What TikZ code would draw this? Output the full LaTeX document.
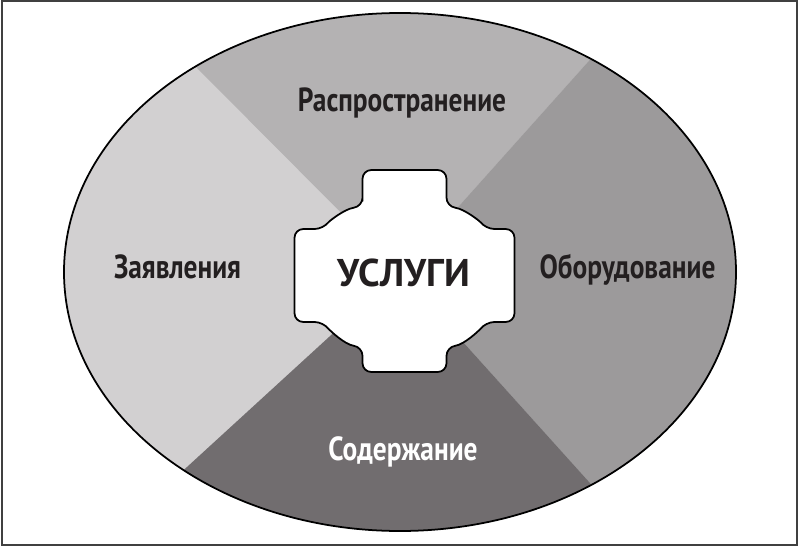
\documentclass[tikz,border=0pt]{standalone}
\usepackage{fontspec}
\setmainfont{PT Sans}
\newfontfamily\narrowfont{PT Sans}[FakeStretch=0.82]
\usetikzlibrary{positioning}
\definecolor{sectorTop}{HTML}{B4B2B3}
\definecolor{sectorLeft}{HTML}{D2D0D1}
\definecolor{sectorRight}{HTML}{9C9A9B}
\definecolor{sectorBottom}{HTML}{716D6F}
\definecolor{inkdark}{HTML}{231F20}
\tikzstyle{sectortext} = [font=\narrowfont\bfseries\fontsize{19}{23}\selectfont, text=inkdark, anchor=base, inner sep=0pt]
\tikzstyle{hub} = [draw=black, line width=1pt, fill=white, rounded corners=5pt]
\tikzstyle{frame} = [draw=black!75, line width=1.2pt]

\begin{document}
\begin{tikzpicture}
        \useasboundingbox (-8,5.44) rectangle (8,-5.5);
        \draw [frame] (-7.96,5.42) rectangle (7.94,-5.46);

        % four sectors inside the ellipse
        \begin{scope}
            \clip (0,0) ellipse (6.72cm and 5.18cm);
            \fill [sectorLeft] (-7,-6) rectangle (7,6);
            \fill [sectorTop] (0,0) -- (-8.12,8.16) -- (7.48,8.36) -- cycle;
            \fill [sectorRight] (0,0) -- (7.48,8.36) -- (10,10) -- (10,-10) -- (7.6,-8.44) -- cycle;
            \fill [sectorBottom] (0,0) -- (-8.52,-7.8) -- (7.6,-8.44) -- cycle;
        \end{scope}
        \draw [line width=1pt] (0,0) ellipse (6.72cm and 5.18cm);

        % centre cross
        \begin{scope}[shift={(0.09,0.02)}]
            \draw [hub] (-0.84,1.29) -- (-0.84,2.02) -- (0.84,2.02) -- (0.84,1.29)
                .. controls (1.2,1.24) and (1.5,1.0) .. (1.62,0.84) -- (2.2,0.84) -- (2.2,-1.02) -- (1.62,-1.02)
                .. controls (1.5,-1.18) and (1.2,-1.47) .. (0.84,-1.52) -- (0.84,-2.02) -- (-0.84,-2.02) -- (-0.84,-1.52)
                .. controls (-1.2,-1.47) and (-1.5,-1.18) .. (-1.62,-1.02) -- (-2.2,-1.02) -- (-2.2,0.84) -- (-1.62,0.84)
                .. controls (-1.5,1.0) and (-1.2,1.24) .. cycle;
        \end{scope}

        \node (services) [anchor=base, text=inkdark, font=\bfseries\fontsize{22}{26}\selectfont] at (0.08,-0.28) {УСЛУГИ};
        \node (distribution) [sectortext] at (0.04,3.21) {Распространение};
        \node (statements) [sectortext] at (-4.45,-0.12) {Заявления};
        \node (equipment) [sectortext] at (4.55,-0.12) {Оборудование};
        \node (maintenance) [sectortext, text=white] at (0.06,-3.76) {Содержание};

\end{tikzpicture}
\end{document}
